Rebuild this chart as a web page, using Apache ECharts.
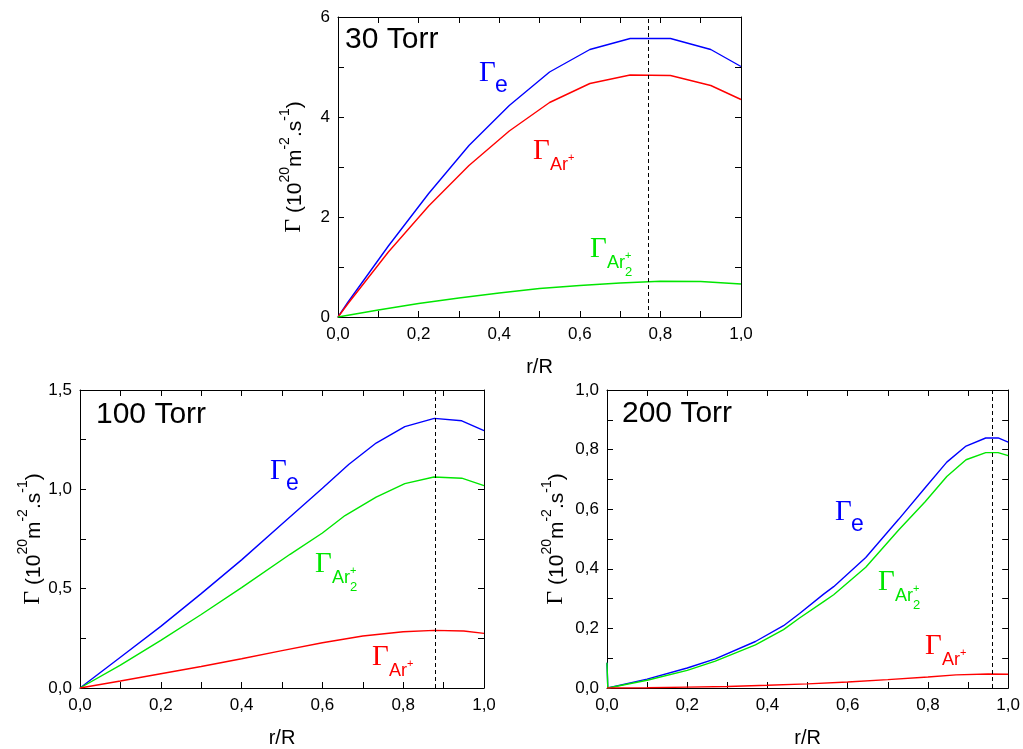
<!DOCTYPE html>
<html><head><meta charset="utf-8">
<script src="https://cdn.jsdelivr.net/npm/echarts@6/dist/echarts.min.js"></script>
<style>html,body{margin:0;padding:0;background:#fff}#c{width:1023px;height:749px}</style>
</head><body><div id="c"></div>
<script>
const SANS = 'Liberation Sans', SERIF = 'Liberation Serif';
const BLUE = '#0000ff', RED = '#ff0000', GREEN = '#00e600';

// ---------- data: [r/R, flux] ----------
// 30 Torr
const t30_e   = [[0,0],[0.025,0.3],[0.125,1.42],[0.225,2.47],[0.325,3.43],[0.425,4.23],[0.525,4.9],[0.625,5.35],[0.725,5.57],[0.825,5.57],[0.925,5.35],[1.0,5.01]];
const t30_ar  = [[0,0],[0.025,0.27],[0.125,1.3],[0.225,2.22],[0.325,3.03],[0.425,3.72],[0.525,4.29],[0.625,4.67],[0.725,4.84],[0.825,4.83],[0.925,4.63],[1.0,4.35]];
const t30_ar2 = [[0,0],[0.1,0.14],[0.2,0.27],[0.3,0.38],[0.4,0.48],[0.5,0.57],[0.6,0.63],[0.7,0.68],[0.8,0.715],[0.9,0.71],[1.0,0.66]];
const t30_peak = 0.77;
// 100 Torr
const t100_e   = [[0,0],[0.1,0.155],[0.2,0.31],[0.3,0.475],[0.4,0.645],[0.5,0.825],[0.6,1.005],[0.665,1.125],[0.733,1.233],[0.804,1.316],[0.877,1.357],[0.945,1.345],[1.0,1.295]];
const t100_ar2 = [[0,0],[0.1,0.115],[0.2,0.24],[0.3,0.37],[0.4,0.505],[0.52,0.673],[0.6,0.78],[0.656,0.868],[0.733,0.961],[0.804,1.029],[0.876,1.062],[0.945,1.056],[1.0,1.019]];
const t100_ar  = [[0,0],[0.1,0.035],[0.2,0.072],[0.3,0.108],[0.4,0.147],[0.5,0.188],[0.6,0.228],[0.7,0.262],[0.8,0.283],[0.877,0.29],[0.95,0.287],[1.0,0.275]];
const t100_peak = 0.877;
// 200 Torr
const t200_e   = [[0,0.085],[0.002,0],[0.1,0.03],[0.2,0.067],[0.27,0.098],[0.37,0.156],[0.44,0.209],[0.48,0.25],[0.54,0.315],[0.565,0.34],[0.645,0.438],[0.727,0.566],[0.793,0.672],[0.847,0.758],[0.895,0.812],[0.944,0.839],[0.975,0.839],[1.0,0.825]];
const t200_ar2 = [[0,0.085],[0.002,0],[0.1,0.026],[0.2,0.059],[0.27,0.09],[0.37,0.145],[0.44,0.196],[0.48,0.235],[0.54,0.29],[0.565,0.313],[0.645,0.405],[0.727,0.53],[0.793,0.625],[0.847,0.71],[0.895,0.766],[0.944,0.79],[0.975,0.79],[1.0,0.78]];
const t200_ar  = [[0,0],[0.1,0.001],[0.2,0.003],[0.3,0.005],[0.4,0.009],[0.5,0.014],[0.6,0.02],[0.7,0.028],[0.8,0.037],[0.87,0.044],[0.95,0.047],[1.0,0.046]];
const t200_peak = 0.96;

// axis scales
const xRange = [0, 1, 0.2];
const y30Range = [0, 6, 2];
const y100Range = [0, 1.5, 0.5];
const y200Range = [0, 1.0, 0.2];
const titles = ['30 Torr', '100 Torr', '200 Torr'];

const chart = echarts.init(document.getElementById('c'));
const comma = d => v => v.toFixed(d).replace('.', ',');

const grids = [
  {left: 338, top: 17, width: 403, height: 300},
  {left: 80, top: 390, width: 404, height: 299},
  {left: 607, top: 390, width: 403, height: 299}
];

const tickBase = {show: true, inside: true, length: 6, lineStyle: {color: '#000', width: 1}};
const minorBase = {show: true, splitNumber: 2, length: 6, lineStyle: {color: '#000', width: 1}};
const lineBase = {show: true, onZero: false, lineStyle: {color: '#000', width: 1}};

const yName = '{g|Γ}{n| (10}{sup|20}{n|m}{sup|-2}{n|.s}{sup|-1}{n|)}';
const yRich = {
  g: {fontFamily: SERIF, fontSize: 24, color: '#000', lineHeight: 28, verticalAlign: 'bottom'},
  n: {fontFamily: SANS, fontSize: 21, color: '#000', lineHeight: 28, verticalAlign: 'bottom'},
  sup: {fontFamily: SANS, fontSize: 14, color: '#000', lineHeight: 28, verticalAlign: 'top'}
};

function xAxes(gi) {
  return [
    {type: 'value', gridIndex: gi, min: xRange[0], max: xRange[1], interval: xRange[2], position: 'bottom',
     axisLine: lineBase, axisTick: tickBase, minorTick: minorBase, splitLine: {show: false}, minorSplitLine: {show: false},
     axisLabel: {show: true, margin: 9, fontSize: 17, color: '#000', fontFamily: SANS, formatter: comma(1)},
     name: 'r/R', nameLocation: 'middle', nameGap: 40,
     nameTextStyle: {fontSize: 20, fontFamily: SANS, color: '#000', verticalAlign: 'top'}},
    {type: 'value', gridIndex: gi, min: xRange[0], max: xRange[1], interval: xRange[2], position: 'top',
     axisLine: lineBase, axisTick: tickBase, minorTick: minorBase, splitLine: {show: false}, minorSplitLine: {show: false},
     axisLabel: {show: false}}
  ];
}
function yAxes(gi, rng, dec, gap) {
  return [
    {type: 'value', gridIndex: gi, min: rng[0], max: rng[1], interval: rng[2], position: 'left',
     axisLine: lineBase, axisTick: tickBase, minorTick: minorBase, splitLine: {show: false}, minorSplitLine: {show: false},
     axisLabel: {show: true, margin: 8, fontSize: 17, color: '#000', fontFamily: SANS, formatter: comma(dec)},
     name: yName, nameLocation: 'middle', nameGap: gap, nameTextStyle: {rich: yRich}},
    {type: 'value', gridIndex: gi, min: rng[0], max: rng[1], interval: rng[2], position: 'right',
     axisLine: lineBase, axisTick: tickBase, minorTick: minorBase, splitLine: {show: false}, minorSplitLine: {show: false},
     axisLabel: {show: false}}
  ];
}

function line(data, color, gi, peak) {
  const s = {type: 'line', data: data, xAxisIndex: gi * 2, yAxisIndex: gi * 2, showSymbol: false, symbol: 'none',
    lineStyle: {color: color, width: 1.4}, itemStyle: {color: color}, silent: true, animation: false};
  if (peak !== undefined) {
    s.markLine = {silent: true, symbol: 'none', label: {show: false}, animation: false,
      lineStyle: {type: [4, 3], color: '#000', width: 1}, data: [{xAxis: peak}]};
  }
  return s;
}

// Γ with subscript; optional superscript '+' and stacked '2'
function gamma(x, y, sub, color, plus, two) {
  const out = [];
  out.push({type: 'text', x: x, y: y, silent: true,
    style: {text: 'Γ', fontSize: 29, fontFamily: SERIF, fill: color, verticalAlign: 'middle', align: 'left'}});
  if (sub === 'e') {
    out.push({type: 'text', x: x + 16, y: y + 13, silent: true,
      style: {text: 'e', fontSize: 23, fontFamily: SANS, fill: color, verticalAlign: 'middle', align: 'left'}});
  } else {
    out.push({type: 'text', x: x + 17, y: y + 14.5, silent: true,
      style: {text: 'Ar', fontSize: 18, fontFamily: SANS, fill: color, verticalAlign: 'middle', align: 'left'}});
    out.push({type: 'text', x: x + 35, y: y + 7, silent: true,
      style: {text: '+', fontSize: 11, fontFamily: SANS, fill: color, verticalAlign: 'middle', align: 'left'}});
    if (two) out.push({type: 'text', x: x + 35, y: y + 23.5, silent: true,
      style: {text: '2', fontSize: 13, fontFamily: SANS, fill: color, verticalAlign: 'middle', align: 'left'}});
  }
  return out;
}
function title(x, y, s) {
  return {type: 'text', x: x, y: y, silent: true,
    style: {text: s, fontSize: 30, fontFamily: SANS, fill: '#000', verticalAlign: 'middle', align: 'left'}};
}

const graphics = [].concat(
  [title(345, 40, titles[0]), title(96, 415, titles[1]), title(622, 414, titles[2])],
  gamma(479, 73, 'e', BLUE),
  gamma(533, 151, 'Ar', RED, true, false),
  gamma(590, 249, 'Ar', GREEN, true, true),
  gamma(270, 471, 'e', BLUE),
  gamma(315, 564, 'Ar', GREEN, true, true),
  gamma(372, 657, 'Ar', RED, true, false),
  gamma(835, 512, 'e', BLUE),
  gamma(878, 582, 'Ar', GREEN, true, true),
  gamma(925, 646, 'Ar', RED, true, false)
);

chart.setOption({
  animation: false,
  backgroundColor: '#fff',
  grid: grids,
  xAxis: [].concat(xAxes(0), xAxes(1), xAxes(2)),
  yAxis: [].concat(yAxes(0, y30Range, 0, 32), yAxes(1, y100Range, 1, 35), yAxes(2, y200Range, 1, 39)),
  series: [
    line(t30_e, BLUE, 0, t30_peak), line(t30_ar, RED, 0), line(t30_ar2, GREEN, 0),
    line(t100_e, BLUE, 1, t100_peak), line(t100_ar2, GREEN, 1), line(t100_ar, RED, 1),
    line(t200_e, BLUE, 2, t200_peak), line(t200_ar2, GREEN, 2), line(t200_ar, RED, 2)
  ],
  graphic: graphics
});
</script>
</body></html>
